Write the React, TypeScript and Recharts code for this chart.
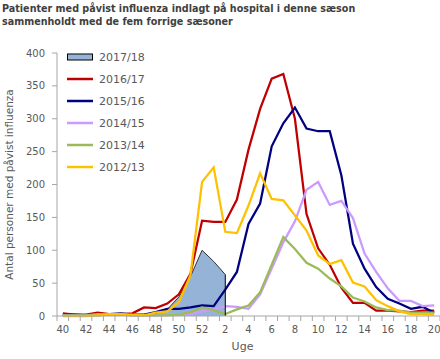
import React from 'react';
import { ComposedChart, Area, Line, XAxis, YAxis, Label, ReferenceLine } from 'recharts';

// uge 40-52 og 1-20
const weeks = ['40', '41', '42', '43', '44', '45', '46', '47', '48', '49', '50', '51', '52',
  '1', '2', '3', '4', '5', '6', '7', '8', '9', '10', '11', '12', '13', '14', '15', '16', '17', '18', '19', '20'];

const s1718 = [1, 1, 1, 2, 3, 3, 1, 1, 4, 10, 29, 60, 100, 83, 63];
const s1617 = [4, 2, 2, 5, 3, 3, 4, 13, 12, 19, 33, 64, 145,
  143, 143, 177, 253, 315, 361, 368, 300, 155, 103, 78, 43, 20, 20, 8, 8, 7, 6, 8, 8];
const s1516 = [1, 2, 1, 2, 3, 4, 2, 2, 6, 11, 11, 13, 16,
  15, 40, 67, 140, 171, 258, 293, 317, 285, 281, 281, 214, 110, 72, 44, 26, 19, 11, 14, 5];
const s1415 = [1, 1, 1, 3, 2, 2, 1, 1, 1, 2, 2, 3, 7,
  10, 15, 14, 11, 33, 72, 112, 144, 192, 204, 169, 175, 149, 95, 67, 42, 23, 23, 15, 16];
const s1314 = [1, 1, 1, 1, 2, 2, 1, 1, 1, 1, 2, 6, 13,
  9, 3, 10, 16, 36, 78, 120, 102, 81, 72, 57, 45, 28, 22, 13, 9, 8, 5, 5, 5];
const s1213 = [0, 0, 0, 1, 3, 3, 2, 1, 5, 7, 21, 62, 204,
  226, 128, 126, 168, 217, 178, 176, 153, 130, 92, 79, 85, 51, 45, 24, 15, 7, 3, 3, 2];

const yTicks = [0, 50, 100, 150, 200, 250, 300, 350, 400];

const series = [
  { key: 's1718', name: '2017/18', color: '#95B3D7', values: s1718, area: true },
  { key: 's1617', name: '2016/17', color: '#C00000', values: s1617 },
  { key: 's1516', name: '2015/16', color: '#000080', values: s1516 },
  { key: 's1415', name: '2014/15', color: '#CC99FF', values: s1415 },
  { key: 's1314', name: '2013/14', color: '#9BBB59', values: s1314 },
  { key: 's1213', name: '2012/13', color: '#FFC000', values: s1213 },
];

const data = weeks.map((w, i) => {
  const row: Record<string, string | number | null> = { week: w };
  series.forEach((s) => {
    row[s.key] = i < s.values.length ? s.values[i] : null;
  });
  return row;
});

// sidste uge med data i indeværende sæson
const lastWeek = weeks[s1718.length - 1];
const lastValue = s1718[s1718.length - 1];

const W = 440;
const H = 359;
const Y_W = 57;
const BAND = (W - Y_W) / weeks.length;
const FONT = '"DejaVu Sans", Verdana, sans-serif';
const AXIS = '#A6A6A6';
const TXT = '#595959';

function WeekTick(props: any) {
  const { x, y, payload } = props;
  const idx = payload.index ?? props.index;
  const axisY = y - 9;
  return (
    <g>
      <line x1={x - BAND / 2} x2={x - BAND / 2} y1={axisY} y2={axisY + 5} stroke={AXIS} />
      {idx === weeks.length - 1 && (
        <line x1={x + BAND / 2} x2={x + BAND / 2} y1={axisY} y2={axisY + 5} stroke={AXIS} />
      )}
      {idx % 2 === 0 && (
        <text x={x} y={y} dy="0.82em" textAnchor="middle" fill={TXT} fontSize={10} fontFamily={FONT}>
          {payload.value}
        </text>
      )}
    </g>
  );
}

function LegendBox() {
  return (
    <div style={{ position: 'absolute', left: 67, top: 46, fontFamily: FONT, fontSize: 11, color: TXT }}>
      {series.map((s) => (
        <div key={s.key} style={{ height: 22, display: 'flex', alignItems: 'center' }}>
          <svg width={26} height={10} style={{ marginRight: 6 }}>
            {s.area ? (
              <rect x={0.5} y={2} width={25} height={6} fill={s.color} stroke="#000" strokeWidth={1} />
            ) : (
              <line x1={0} x2={26} y1={5} y2={5} stroke={s.color} strokeWidth={2.5} />
            )}
          </svg>
          <span>{s.name}</span>
        </div>
      ))}
    </div>
  );
}

export default function App() {
  return (
    <div style={{ position: 'absolute', left: 0, top: 0, width: W, height: H, background: '#fff' }}>
      <div style={{ position: 'absolute', left: 2, top: 2, fontFamily: FONT, fontSize: 9.6,
        fontWeight: 'bold', color: '#404040', lineHeight: '13.4px' }}>
        Patienter med påvist influenza indlagt på hospital i denne sæson<br />
        sammenholdt med de fem forrige sæsoner
      </div>
      <ComposedChart width={W} height={H} data={data} margin={{ top: 53, right: 0, bottom: 0, left: 0 }}>
        <XAxis dataKey="week" interval={0} height={43} stroke={AXIS} tickLine={false}
          padding={{ left: BAND / 2, right: BAND / 2 }}
          tickSize={5} tickMargin={4} tick={<WeekTick />}>
          <Label value="Uge" position="insideBottom" offset={9} dx={-6}
            style={{ fill: TXT, fontSize: 11, fontFamily: FONT }} />
        </XAxis>
        <YAxis width={Y_W} domain={[0, 400]} ticks={yTicks} interval={0} stroke={AXIS}
          tickSize={5} tickMargin={7} tick={{ fill: TXT, fontSize: 10, fontFamily: FONT }}>
          <Label value="Antal personer med påvist influenza" angle={-90} position="insideLeft" offset={9}
            style={{ textAnchor: 'middle', fill: TXT, fontSize: 10.5, fontFamily: FONT }} />
        </YAxis>
        {series.map((s) =>
          s.area ? (
            <Area key={s.key} dataKey={s.key} type="linear" fill={s.color} fillOpacity={1}
              stroke="#333" strokeWidth={1} isAnimationActive={false} dot={false} activeDot={false} />
          ) : (
            <Line key={s.key} dataKey={s.key} type="linear" stroke={s.color} strokeWidth={2.25}
              dot={false} activeDot={false} isAnimationActive={false} />
          )
        )}
        <ReferenceLine segment={[{ x: lastWeek, y: 0 }, { x: lastWeek, y: lastValue }]}
          stroke="#000" strokeWidth={1} />
      </ComposedChart>
      <LegendBox />
    </div>
  );
}
